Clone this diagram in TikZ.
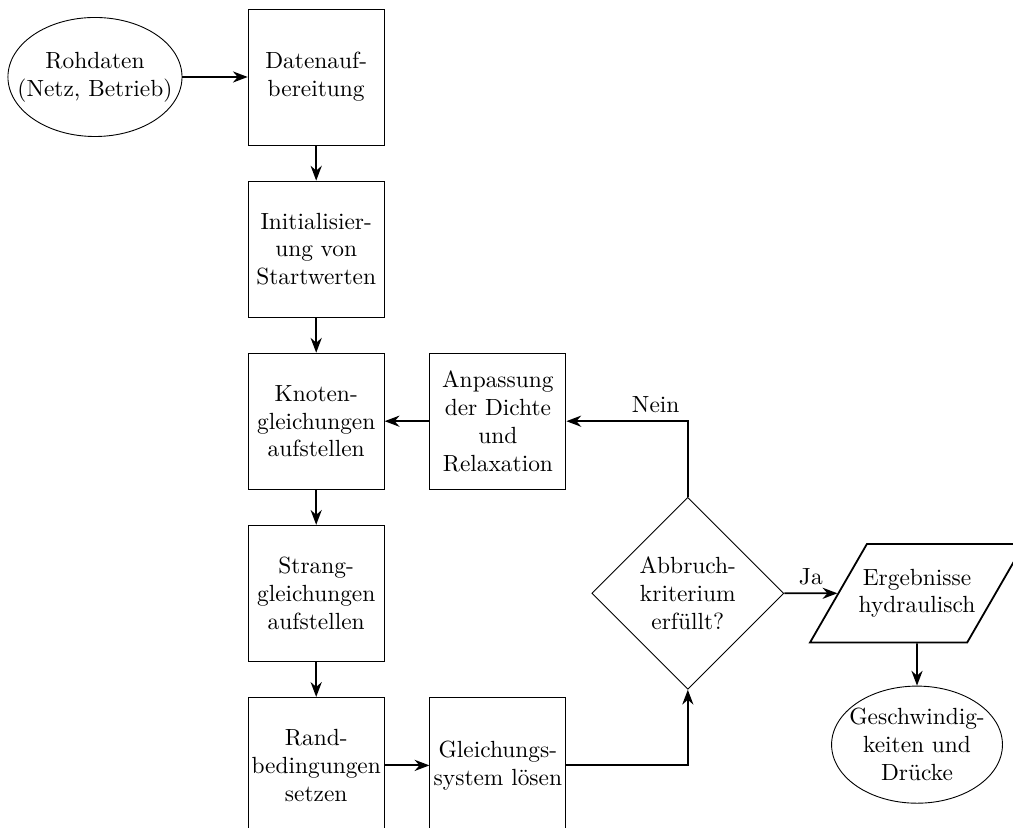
\documentclass[tikz,border=0pt]{standalone}
\usepackage{tikz}
\usetikzlibrary{arrows.meta, positioning, shapes.geometric, calc}

\begin{document}
\begin{tikzpicture}[>=Stealth, thick, node distance=0.55cm,
    every node/.style={font=\fontsize{10.4}{12.4}\selectfont},
    box/.style={rectangle, draw, thin, minimum width=2.125cm, minimum height=2.125cm, align=center, inner sep=1pt},
    terminal/.style={ellipse, draw, thin, align=center, inner sep=-8pt},
    decision/.style={diamond, draw, thin, aspect=1, minimum size=3cm, inner sep=0pt, align=center},
    output/.style={trapezium, draw, thick, trapezium left angle=60, trapezium right angle=120, trapezium stretches body, inner ysep=11pt, inner xsep=-3.6pt, minimum width=3.31cm, minimum height=1.53cm, align=center}]

        \useasboundingbox (0,0) rectangle (15.828,-12.922);

        % Input
        \node[terminal, minimum width=2.72cm, minimum height=1.86cm] (roh) at (1.484,-1.203) {Rohdaten\\(Netz, Betrieb)};

        % Main column
        \node[box, right=1.02cm of roh] (dat) {Datenauf-\\bereitung};
        \node[box, below=of dat] (ini) {Initialisier-\\ung von\\Startwerten};
        \node[box, below=of ini] (kno) {Knoten-\\gleichungen\\aufstellen};
        \node[box, below=of kno] (str) {Strang-\\gleichungen\\aufstellen};
        \node[box, below=of str] (ran) {Rand-\\bedingungen\\setzen};

        % Second column
        \node[box, right=0.7cm of kno] (anp) {Anpassung\\der Dichte\\und\\Relaxation};
        \node[box, right=0.7cm of ran] (gls) {Gleichungs-\\system l\"osen};

        % Decision and results
        \node[decision, right=3.23cm of str] (dia) {Abbruch-\\kriterium\\erf\"ullt?};
        \node[output, right=0.83cm of dia] (erg) {Ergebnisse\\hydraulisch};
        \node[terminal, below=0.66cm of erg, minimum width=2.67cm, minimum height=1.83cm] (ges) {Geschwindig-\\keiten und\\Dr\"ucke};

        % Flow
        \draw[->] (roh) -- (dat);
        \draw[->] (dat) -- (ini);
        \draw[->] (ini) -- (kno);
        \draw[->] (kno) -- (str);
        \draw[->] (str) -- (ran);
        \draw[->] (ran) -- (gls);
        \draw[->] (gls.east) -| (dia.south);
        \draw[->] (dia.north) |- node[above left] {Nein} (anp.east);
        \draw[->] (anp) -- (kno);
        \draw[->] (dia) -- node[midway, above] {Ja} (erg);
        \draw[->] (erg) -- (ges);

    \end{tikzpicture}
\end{document}
